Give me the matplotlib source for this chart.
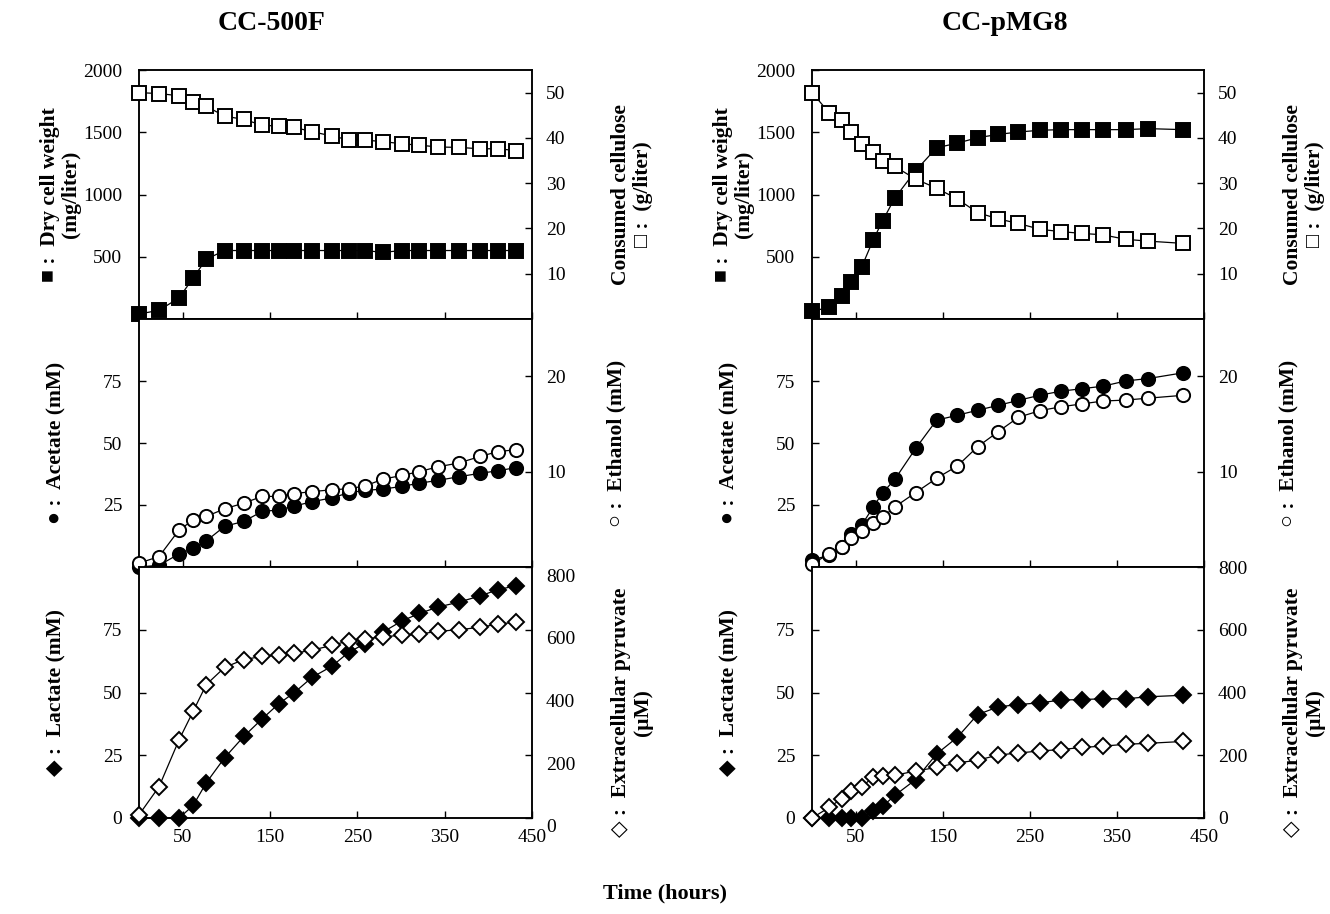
import numpy as np
import matplotlib.pyplot as plt
from matplotlib.transforms import ScaledTranslation

# ============================================================================
# Data

# CC-500F (left column)
t_500 = [0, 23, 46, 62, 77, 98, 120, 141, 160, 178, 198, 221, 240, 259, 279,
         301, 321, 342, 366, 391, 411, 432]
dcw_500 = [40, 70, 170, 330, 480, 550, 550, 550, 550, 550, 550, 550, 550, 550,
           535, 550, 550, 550, 550, 550, 550, 550]
cellulose_500 = [50.0, 49.8, 49.3, 48.0, 47.0, 44.8, 44.1, 42.8, 42.6, 42.3, 41.4,
                 40.4, 39.6, 39.5, 39.2, 38.7, 38.4, 38.0, 37.9, 37.6, 37.6, 37.2]
acetate_500 = [0, 0.7, 5.3, 7.5, 10.5, 16.4, 18.4, 22.4, 23.0, 24.6, 26.3, 27.9,
               29.9, 30.9, 31.4, 32.5, 33.8, 34.9, 36.4, 37.8, 38.8, 40.1]
ethanol_500 = [0.4, 1.1, 3.9, 4.9, 5.3, 6.1, 6.7, 7.4, 7.4, 7.7, 7.9, 8.1, 8.2,
               8.5, 9.2, 9.6, 10.0, 10.5, 10.9, 11.6, 12.1, 12.3]
lactate_500 = [0, 0, 0, 5, 14, 24, 32.5, 39.5, 45.5, 50, 56, 60.5, 66, 69.5, 74,
               78.5, 81.5, 84, 86, 88.5, 91, 92.5]
pyruvate_500 = [10, 100, 250, 340, 425, 480, 505, 515, 520, 525, 535, 550, 565,
                570, 578, 582, 586, 595, 600, 608, 618, 624]

# CC-pMG8 (right column)
t_pmg = [0, 20, 34, 45, 57, 70, 81, 95, 119, 143, 167, 190, 214, 237, 262, 286,
         310, 334, 360, 386, 426]
dcw_pmg = [62, 94, 183, 299, 417, 632, 788, 971, 1192, 1375, 1413, 1456, 1483,
           1502, 1516, 1521, 1521, 1521, 1521, 1529, 1521]
cellulose_pmg = [50.0, 45.5, 43.9, 41.3, 38.6, 36.9, 35.0, 33.7, 30.9, 28.9, 26.5,
                 23.5, 22.1, 21.1, 19.8, 19.3, 18.9, 18.6, 17.6, 17.2, 16.7]
acetate_pmg = [2.8, 4.8, 8.2, 13.3, 16.9, 24.0, 29.9, 35.3, 47.8, 59.2, 61.2, 63.2,
               65.2, 67.2, 69.3, 70.9, 71.9, 72.9, 75.0, 76.0, 78.3]
ethanol_pmg = [0.3, 1.4, 2.1, 3.0, 3.8, 4.6, 5.2, 6.3, 7.8, 9.3, 10.6, 12.6, 14.2,
               15.7, 16.4, 16.8, 17.1, 17.4, 17.5, 17.7, 18.0]
lactate_pmg = [0, 0, 0, 0, 0, 2.7, 4.6, 9.0, 15.3, 25.5, 32.2, 41.2, 44.3, 45.2,
               45.9, 47.0, 47.2, 47.5, 47.5, 48.3, 48.9]
pyruvate_pmg = [0, 34, 62, 86, 98, 131, 133, 136, 150, 161, 176, 184, 201, 207,
                214, 218, 225, 229, 235, 238, 244]

x_ticks = [50, 150, 250, 350, 450]

# ============================================================================
# Figure
W, H = 1330, 914
plt.rcParams['font.family'] = ['Liberation Serif', 'DejaVu Sans']
fig = plt.figure(figsize=(W / 100, H / 100), dpi=100)


def rect(x0, x1, y0, y1):
    return [x0 / W, 1 - y1 / H, (x1 - x0) / W, (y1 - y0) / H]


rows = [(70, 319), (319, 567), (567, 818)]
cols = [(139, 532), (812, 1204)]

TICK = dict(direction='in', length=5, width=1, labelsize=14)


def series(ax, t, y, marker, filled, ms=9):
    ax.plot(t, y, color='black', lw=0.9, marker=marker, ms=ms,
            mfc='black' if filled else 'white', mec='black', mew=1.4,
            clip_on=False, zorder=3)


def panel(ci, ri, t, left, right, lmark, rmark, lylim, rylim, lticks, rticks):
    x0, x1 = cols[ci]
    y0, y1 = rows[ri]
    ax = fig.add_axes(rect(x0, x1, y0, y1))
    ax2 = ax.twinx()
    ms = 8.5 if lmark == 'D' else 9.5
    series(ax, t, left, lmark, True, ms)
    series(ax2, t, right, rmark, False, ms)
    ax.set_xlim(0, 450)
    ax.set_ylim(*lylim)
    ax2.set_ylim(*rylim)
    ax.set_xticks(x_ticks)
    ax.set_yticks(lticks)
    ax2.set_yticks(rticks)
    ax.tick_params(axis='both', **TICK)
    ax2.tick_params(axis='y', **TICK)
    ax.tick_params(axis='y', pad=12)
    ax2.tick_params(axis='y', pad=10)
    if ri < 2:
        ax.tick_params(axis='x', labelbottom=False)
    else:
        ax.tick_params(axis='x', pad=8)
    for a in (ax, ax2):
        for s in a.spines.values():
            s.set_linewidth(1.1)
    return ax, ax2


LBL = dict(fontsize=15.5, fontweight='bold', rotation=90, ha='center',
           va='center', linespacing=1.1)

for ci, (t, d) in enumerate([
        (t_500, (dcw_500, cellulose_500, acetate_500, ethanol_500,
                 lactate_500, pyruvate_500)),
        (t_pmg, (dcw_pmg, cellulose_pmg, acetate_pmg, ethanol_pmg,
                 lactate_pmg, pyruvate_pmg))]):
    dcw, cel, ace, eth, lac, pyr = d
    a, b = panel(ci, 0, t, dcw, cel, 's', 's', (0, 2000), (0, 55),
                 [500, 1000, 1500, 2000], [10, 20, 30, 40, 50])
    a.text(-0.2, 0.5, '\u25a0 :  Dry cell weight\n(mg/liter)',
           transform=a.transAxes, **LBL)
    a.text(1.255, 0.5, 'Consumed cellulose\n\u25a1 :  (g/liter)',
           transform=a.transAxes, **LBL)

    a, b = panel(ci, 1, t, ace, eth, 'o', 'o', (0, 100), (0, 26),
                 [25, 50, 75], [10, 20])
    a.text(-0.21, 0.5, '\u25cf :  Acetate (mM)', transform=a.transAxes, **LBL)
    a.text(1.215, 0.5, '\u25cb :  Ethanol (mM)', transform=a.transAxes, **LBL)

    a, b = panel(ci, 2, t, lac, pyr, 'D', 'D', (0, 100), (0, 800),
                 [0, 25, 50, 75], [0, 200, 400, 600, 800])
    a.text(-0.21, 0.5, '\u25c6 :  Lactate (mM)', transform=a.transAxes, **LBL)
    a.text(1.255, 0.42, '\u25c7 :  Extracellular pyruvate\n(\u03bcM)',
           transform=a.transAxes, **LBL)
    if ci == 0:
        off = ScaledTranslation(0, -8 / 100, fig.dpi_scale_trans)
        for lab in b.get_yticklabels():
            lab.set_transform(lab.get_transform() + off)

fig.text(272 / W, 1 - 24 / H, 'CC-500F', fontsize=20, fontweight='bold',
         ha='center', va='center')
fig.text(1005 / W, 1 - 24 / H, 'CC-pMG8', fontsize=20, fontweight='bold',
         ha='center', va='center')
fig.text(665 / W, 1 - 893 / H, 'Time (hours)', fontsize=16, fontweight='bold',
         ha='center', va='center')

fig.savefig('out.png', dpi=100)
